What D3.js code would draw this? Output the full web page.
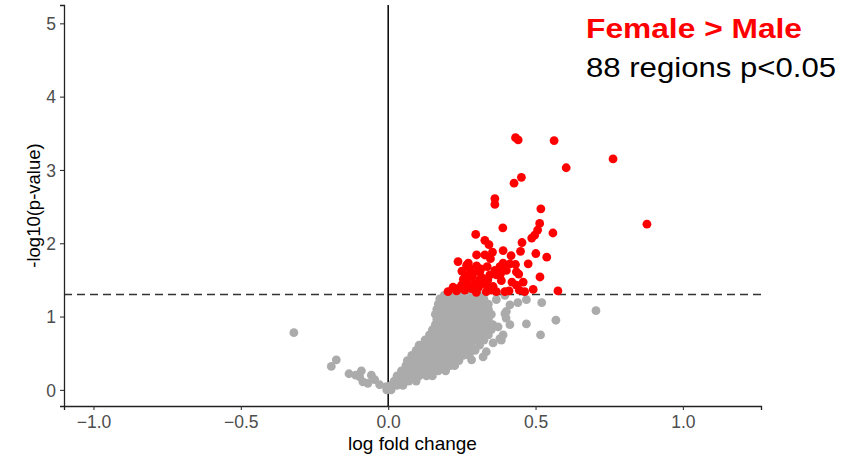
<!DOCTYPE html>
<html>
<head>
<meta charset="utf-8">
<script src="https://cdn.jsdelivr.net/npm/d3@7"></script>
<style>
  html, body { margin: 0; padding: 0; background: #ffffff; }
  svg { display: block; }
</style>
</head>
<body>
<div id="chart"></div>
<script>
// ---------------- DATA ----------------
const xTicks = [-1.0, -0.5, 0.0, 0.5, 1.0];
const yTicks = [0, 1, 2, 3, 4, 5];
const threshold = 1.301; // -log10(0.05)

// significant regions (Female > Male), log fold change
const sigX = [0.432,0.441,0.563,0.763,0.604,0.452,0.427,0.362,0.362,0.518,
  0.878,0.514,0.389,0.507,0.559,0.297,0.497,0.487,0.328,0.342,
  0.454,0.390,0.354,0.449,0.300,0.328,0.417,0.501,0.538,0.237,
  0.272,0.347,0.390,0.413,0.432,0.475,0.276,0.314,0.336,0.362,
  0.381,0.443,0.515,0.284,0.311,0.338,0.367,0.266,0.294,0.328,
  0.420,0.435,0.249,0.277,0.305,0.356,0.203,0.232,0.260,0.299,
  0.333,0.367,0.410,0.463,0.492,0.576,0.288,0.322,0.379,0.266,
  0.250,0.311,0.401,0.435,0.458,0.384,0.339,0.396,0.283,0.255,
  0.237,0.220,0.350,0.270,0.300,0.345,0.310,0.445];
// significant regions, -log10(p)
const sigY = [3.44,3.41,3.40,3.15,3.03,2.90,2.82,2.61,2.53,2.47,
  2.26,2.27,2.21,2.18,2.14,2.12,2.11,2.07,2.04,1.98,
  2.01,1.90,1.88,1.89,1.84,1.84,1.83,1.86,1.81,1.75,
  1.73,1.79,1.73,1.72,1.71,1.72,1.66,1.65,1.68,1.63,
  1.58,1.58,1.54,1.54,1.51,1.50,1.57,1.48,1.45,1.45,
  1.47,1.43,1.43,1.41,1.39,1.41,1.34,1.35,1.36,1.33,
  1.34,1.34,1.35,1.34,1.37,1.35,1.59,1.52,1.68,1.70,
  1.62,1.61,1.63,1.61,1.47,1.49,1.40,1.34,1.38,1.51,
  1.38,1.40,1.36,1.56,1.69,1.57,1.43,1.36];

// non-significant regions, log fold change
const nsX = [
  -0.005,0.01,
  0.01,0.03,0.05,
  0.02,0.045,0.07,0.095,
  0.03,0.055,0.08,0.105,0.13,0.15,
  0.045,0.07,0.095,0.12,0.145,0.17,0.195,
  0.06,0.085,0.11,0.135,0.16,0.185,0.21,0.225,
  0.065,0.09,0.115,0.14,0.165,0.19,0.215,0.24,
  0.08,0.105,0.13,0.155,0.18,0.205,0.23,0.255,0.275,
  0.095,0.12,0.145,0.17,0.195,0.22,0.245,0.27,0.295,
  0.105,0.13,0.155,0.18,0.205,0.23,0.255,0.28,0.31,
  0.125,0.15,0.175,0.2,0.225,0.25,0.275,0.30,0.325,
  0.14,0.165,0.19,0.215,0.24,0.265,0.29,0.315,0.34,
  0.15,0.175,0.2,0.225,0.25,0.275,0.30,0.325,0.35,
  0.16,0.185,0.21,0.235,0.26,0.285,0.31,0.335,0.355,
  0.165,0.19,0.215,0.24,0.265,0.29,0.315,0.34,
  0.16,0.185,0.21,0.235,0.26,0.285,0.31,0.335,0.35,
  0.165,0.19,0.215,0.24,0.265,0.29,0.315,0.34,
  0.17,0.195,0.22,0.245,0.27,0.295,0.32,0.34,
  0.175,0.2,0.225,0.25,0.275,0.30,0.325,
  0.19,0.22,0.25,0.28,0.31,
  -0.32,-0.176,-0.193,-0.133,-0.091,-0.086,-0.057,-0.046,-0.029,-0.006,-0.097,-0.069,-0.11,
  0.413,0.44,0.469,0.521,0.413,0.469,0.517,0.569,0.705,0.384,0.356,0.333,0.322,0.283,
  0.226,0.401,0.396,0.373,0.367,0.39,0.379,0.40,0.396];
// non-significant regions, -log10(p)
const nsY = [
  0.00,0.00,
  0.06,0.06,0.06,
  0.12,0.12,0.12,0.12,
  0.19,0.19,0.19,0.19,0.19,0.19,
  0.26,0.26,0.26,0.26,0.26,0.26,0.26,
  0.33,0.33,0.33,0.33,0.33,0.33,0.33,0.33,
  0.40,0.40,0.40,0.40,0.40,0.40,0.40,0.40,
  0.47,0.47,0.47,0.47,0.47,0.47,0.47,0.47,0.47,
  0.54,0.54,0.54,0.54,0.54,0.54,0.54,0.54,0.54,
  0.61,0.61,0.61,0.61,0.61,0.61,0.61,0.61,0.61,
  0.68,0.68,0.68,0.68,0.68,0.68,0.68,0.68,0.68,
  0.75,0.75,0.75,0.75,0.75,0.75,0.75,0.75,0.75,
  0.82,0.82,0.82,0.82,0.82,0.82,0.82,0.82,0.82,
  0.89,0.89,0.89,0.89,0.89,0.89,0.89,0.89,0.89,
  0.96,0.96,0.96,0.96,0.96,0.96,0.96,0.96,
  1.03,1.03,1.03,1.03,1.03,1.03,1.03,1.03,1.03,
  1.10,1.10,1.10,1.10,1.10,1.10,1.10,1.10,
  1.17,1.17,1.17,1.17,1.17,1.17,1.17,1.17,
  1.24,1.24,1.24,1.24,1.24,1.24,1.24,
  1.29,1.29,1.29,1.29,1.29,
  0.78,0.41,0.32,0.22,0.26,0.11,0.20,0.14,0.07,0.045,0.18,0.09,0.20,
  1.16,1.19,1.23,1.19,0.89,0.90,0.75,0.95,1.08,0.68,0.64,0.52,0.45,0.41,
  0.34,1.07,1.04,0.86,1.23,0.75,0.70,0.98,1.29];

const titleLine1 = "Female > Male";
const titleLine2 = "88 regions p<0.05";
const xLabel = "log fold change";
const yLabel = "-log10(p-value)";

// ---------------- CHART ----------------
const W = 846, H = 463;
const svg = d3.select("#chart").append("svg")
  .attr("width", W).attr("height", H);

const x = d3.scaleLinear().domain([-1.1, 1.265]).range([64, 761]);
const y = d3.scaleLinear().domain([-0.22, 5.25]).range([406, 5]);

const font = "'Liberation Sans', Arial, sans-serif";

// reference lines
svg.append("line")
  .attr("x1", x(0)).attr("x2", x(0))
  .attr("y1", y.range()[1]).attr("y2", y.range()[0])
  .attr("stroke", "#000").attr("stroke-width", 1.5);

svg.append("line")
  .attr("x1", x.range()[0]).attr("x2", x.range()[1])
  .attr("y1", y(threshold)).attr("y2", y(threshold))
  .attr("stroke", "#333").attr("stroke-width", 1.5)
  .attr("stroke-dasharray", "8,5");

// points
const ns = nsX.map((v, i) => ({x: v, y: nsY[i]}));
const sig = sigX.map((v, i) => ({x: v, y: sigY[i]}));

svg.append("g").selectAll("circle").data(ns).join("circle")
  .attr("cx", d => x(d.x)).attr("cy", d => y(d.y))
  .attr("r", 4.4).attr("fill", "#ABABAB");

svg.append("g").selectAll("circle").data(sig).join("circle")
  .attr("cx", d => x(d.x)).attr("cy", d => y(d.y))
  .attr("r", 4.4).attr("fill", "#FF0000");

// axes
const xAxis = svg.append("g")
  .attr("transform", `translate(0,${y.range()[0]})`)
  .call(d3.axisBottom(x).tickValues(xTicks).tickFormat(d3.format(".1f")).tickSizeOuter(0).tickSize(4));
const yAxis = svg.append("g")
  .attr("transform", `translate(${x.range()[0]},0)`)
  .call(d3.axisLeft(y).tickValues(yTicks).tickFormat(d3.format("d")).tickSizeOuter(0).tickSize(4));

[xAxis, yAxis].forEach(g => {
  g.select(".domain").attr("stroke", "#222").attr("stroke-width", 1.3);
  g.selectAll(".tick line").attr("stroke", "#333").attr("stroke-width", 1.1);
  g.selectAll(".tick text")
    .attr("fill", "#4D4D4D")
    .style("font-family", font).style("font-size", "17.5px");
});
xAxis.selectAll(".tick text").attr("dy", null).attr("y", 22);
yAxis.selectAll(".tick text").attr("x", -8).attr("dy", "0.36em");

// axis titles
svg.append("text")
  .attr("x", (x.range()[0] + x.range()[1]) / 2).attr("y", 450)
  .attr("text-anchor", "middle")
  .style("font-family", font).style("font-size", "19px").attr("fill", "#000")
  .text(xLabel);

svg.append("text")
  .attr("transform", `translate(40,${(y.range()[0] + y.range()[1]) / 2}) rotate(-90)`)
  .attr("text-anchor", "middle")
  .style("font-family", font).style("font-size", "18.5px").attr("fill", "#000")
  .text(yLabel);

// annotation
svg.append("text")
  .attr("x", 586).attr("y", 38)
  .style("font-family", font).style("font-size", "28px").style("font-weight", "bold")
  .attr("fill", "#FF0000")
  .attr("textLength", 216).attr("lengthAdjust", "spacingAndGlyphs")
  .text(titleLine1);
svg.append("text")
  .attr("x", 586).attr("y", 77)
  .style("font-family", font).style("font-size", "28px")
  .attr("fill", "#000")
  .attr("textLength", 250).attr("lengthAdjust", "spacingAndGlyphs")
  .text(titleLine2);
</script>
</body>
</html>
